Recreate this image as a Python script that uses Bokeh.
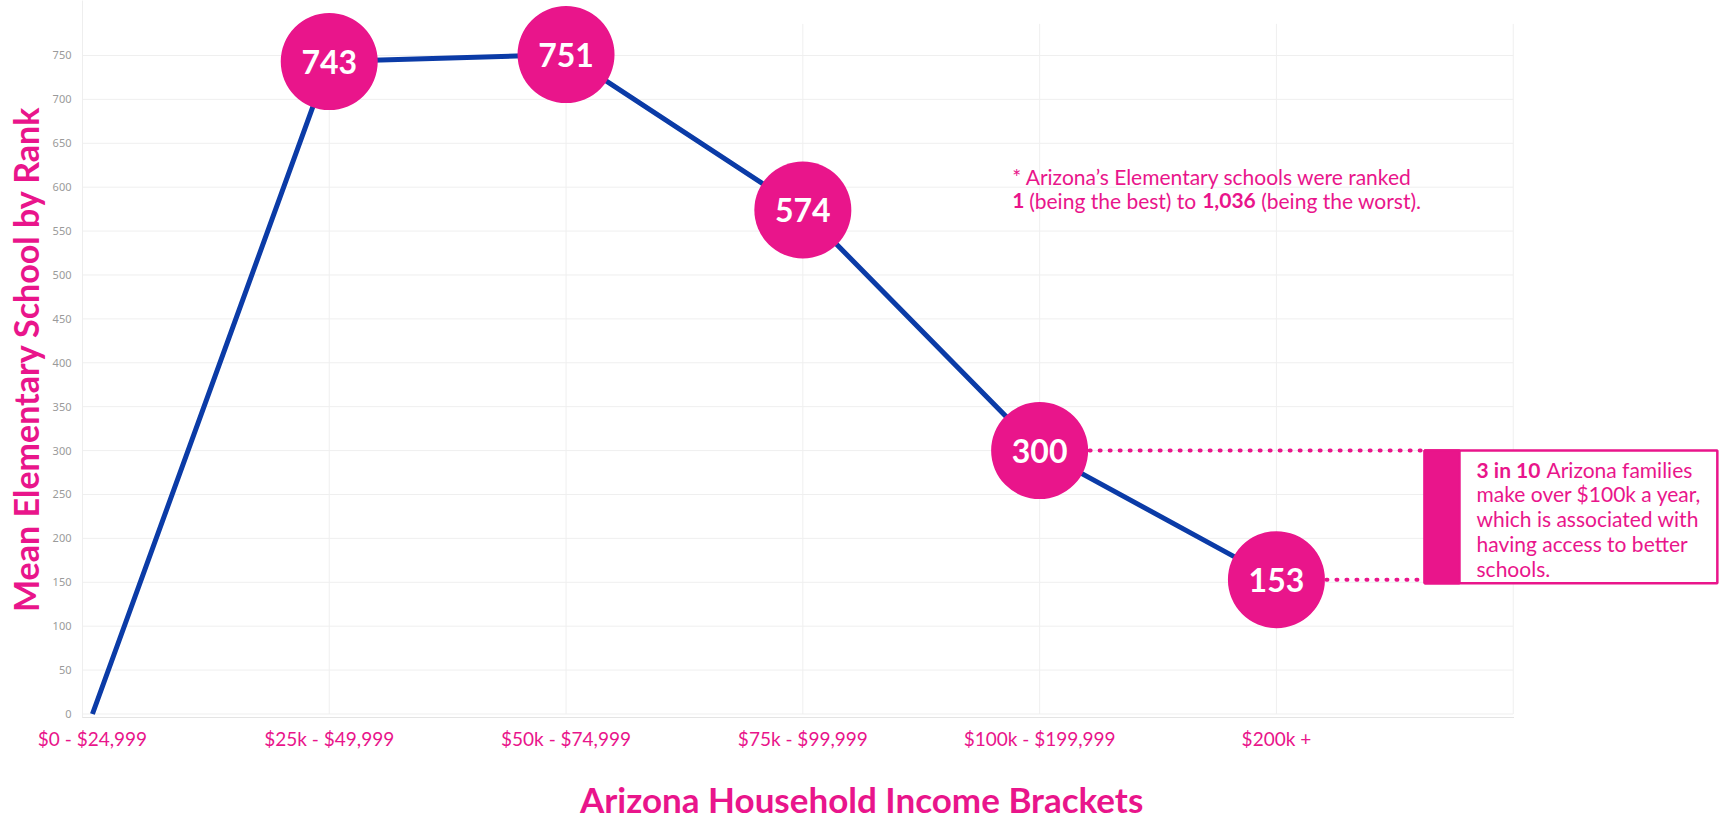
import math
from bokeh.plotting import figure
from bokeh.layouts import column
from bokeh.models import Range1d, FixedTicker, Div, ColumnDataSource
from bokeh.core.properties import value
from bokeh.embed import file_html
from bokeh.resources import INLINE

# ---------------- data ----------------
categories = ["$0 - $24,999", "$25k - $49,999", "$50k - $74,999",
              "$75k - $99,999", "$100k - $199,999", "$200k +"]
mean_rank = [0, 743, 751, 574, 300, 153]
y_ticks = [0, 50, 100, 150, 200, 250, 300, 350, 400, 450, 500, 550, 600, 650, 700, 750]
y_title = "Mean Elementary School by Rank"
x_title = "Arizona Household Income Brackets"
note_line1 = "* Arizona\u2019s Elementary schools were ranked"
note_line2_text = ["1", "(being the best) to", "1,036", "(being the worst)."]
note_line2_bold = [True, False, True, False]
box_first_bold = "3 in 10"
box_first_rest = "Arizona families"
box_lines = ["make over $100k a year,", "which is associated with",
             "having access to better", "schools."]
callout_values = [300, 153]          # values linked to the call-out box
callout_index = [4, 5]

# ---------------- style ----------------
PINK = "#E9158B"
BLUE = "#0B3BA7"
GRID = "#efefef"
FONT = "Lato"

xs = list(range(len(categories)))
x_start, x_end = -0.042, 6.888
y_start, y_end = -4, 812.6

p = figure(width=1723, height=770, x_range=Range1d(x_start, x_end),
           y_range=Range1d(y_start, y_end), output_backend="svg",
           toolbar_location=None, min_border_left=82, min_border_right=0,
           min_border_top=0, min_border_bottom=53)
p.outline_line_color = None
p.xgrid.visible = False
p.ygrid.visible = False
p.background_fill_color = "white"

# grid lines (drawn manually so they stop at the last category)
last_x = len(categories)
p.segment(x0=[x_start] * len(y_ticks), x1=[last_x] * len(y_ticks), y0=y_ticks, y1=y_ticks,
          line_color=GRID, line_width=1)
vx = list(range(1, len(categories) + 1))
p.segment(x0=vx, x1=vx, y0=[0] * len(vx), y1=[786] * len(vx), line_color=GRID, line_width=1)

# axes
p.yaxis.ticker = FixedTicker(ticks=y_ticks)
p.yaxis.major_tick_line_color = None
p.yaxis.minor_tick_line_color = None
p.yaxis.axis_line_color = "#eeeeee"
p.yaxis.major_label_text_font = "Noto Sans"
p.yaxis.major_label_text_font_size = "11px"
p.yaxis.major_label_text_color = "#9a9a9a"
p.yaxis.major_label_standoff = 5
p.yaxis.axis_label = y_title
p.yaxis.axis_label_text_font = FONT
p.yaxis.axis_label_text_font_style = "bold"
p.yaxis.axis_label_text_font_size = "34px"
p.yaxis.axis_label_text_color = PINK
p.yaxis.axis_label_standoff = 4

p.xaxis.ticker = FixedTicker(ticks=xs)
p.xaxis.bounds = (x_start, last_x)
p.xaxis.major_label_overrides = {i: c for i, c in zip(xs, categories)}
p.xaxis.major_tick_line_color = None
p.xaxis.minor_tick_line_color = None
p.xaxis.axis_line_color = "#c9c9c9"
p.xaxis.axis_line_dash = "1 1"
p.xaxis.major_label_text_font = FONT
p.xaxis.major_label_text_font_size = "19px"
p.xaxis.major_label_text_color = PINK
p.xaxis.major_label_standoff = 3

# main line
p.line(xs, mean_rank, line_color=BLUE, line_width=5)

# dotted connectors to call-out box
box_left, box_bar, box_right = 5.626, 5.773, 6.862
for xi, v in zip(callout_index, callout_values):
    p.line([xi, box_left], [v, v], line_color=PINK, line_width=4,
           line_dash="1 9", line_cap="round")

# circles + values
src = ColumnDataSource(dict(x=xs[1:], y=mean_rank[1:], t=[str(v) for v in mean_rank[1:]]))
p.scatter("x", "y", source=src, size=97, fill_color=PINK, line_color=None)
p.text("x", "y", text="t", source=src, text_color="white", text_font=value(FONT),
       text_font_style="bold", text_font_size="32px", text_align="center",
       text_baseline="middle")

# call-out box
box_bottom = min(callout_values) - 4
box_top = max(callout_values)
p.quad(left=[box_left], right=[box_right], bottom=[box_bottom],
       top=[box_top], fill_color="white", line_color=PINK, line_width=2.5)
p.quad(left=[box_left], right=[box_bar], bottom=[box_bottom],
       top=[box_top], fill_color=PINK, line_color=PINK, line_width=2.5)

box_tx = 5.845
box_ys = [279, 251, 222.5, 194, 166]
p.text([box_tx], [box_ys[0]], text=[box_first_bold], text_color=PINK, text_font=value(FONT),
       text_font_style="bold", text_font_size="21px", text_baseline="middle")
p.text([box_tx], [box_ys[0]], text=[box_first_rest], text_color=PINK, text_font=value(FONT),
       text_font_size="21px", text_baseline="middle", x_offset=70)
p.text([box_tx] * len(box_lines), box_ys[1:], text=box_lines, text_color=PINK,
       text_font=value(FONT), text_font_size="21px", text_baseline="middle")

# note
note_x = 3.884
p.text([note_x], [612], text=[note_line1], text_color=PINK, text_font=value(FONT),
       text_font_size="21px", text_baseline="middle")
seg_offsets = [0, 17, 190, 249]
for t, b, off in zip(note_line2_text, note_line2_bold, seg_offsets):
    p.text([note_x], [585], text=[t], text_color=PINK, text_font=value(FONT),
           text_font_style="bold" if b else "normal", text_font_size="21px",
           text_baseline="middle", x_offset=off)

# x-axis title below the plot
title_div = Div(
    text=(f'<div style="margin-left:580px; margin-top:14px; font-family:Lato; '
          f'font-size:35px; font-weight:bold; color:{PINK}; line-height:30px; '
          f'white-space:nowrap;">{x_title}</div>'),
    width=1723, height=48, margin=(0, 0, 0, 0))

layout = column(p, title_div, spacing=0)
open("out.html", "w").write(file_html(layout, INLINE))
